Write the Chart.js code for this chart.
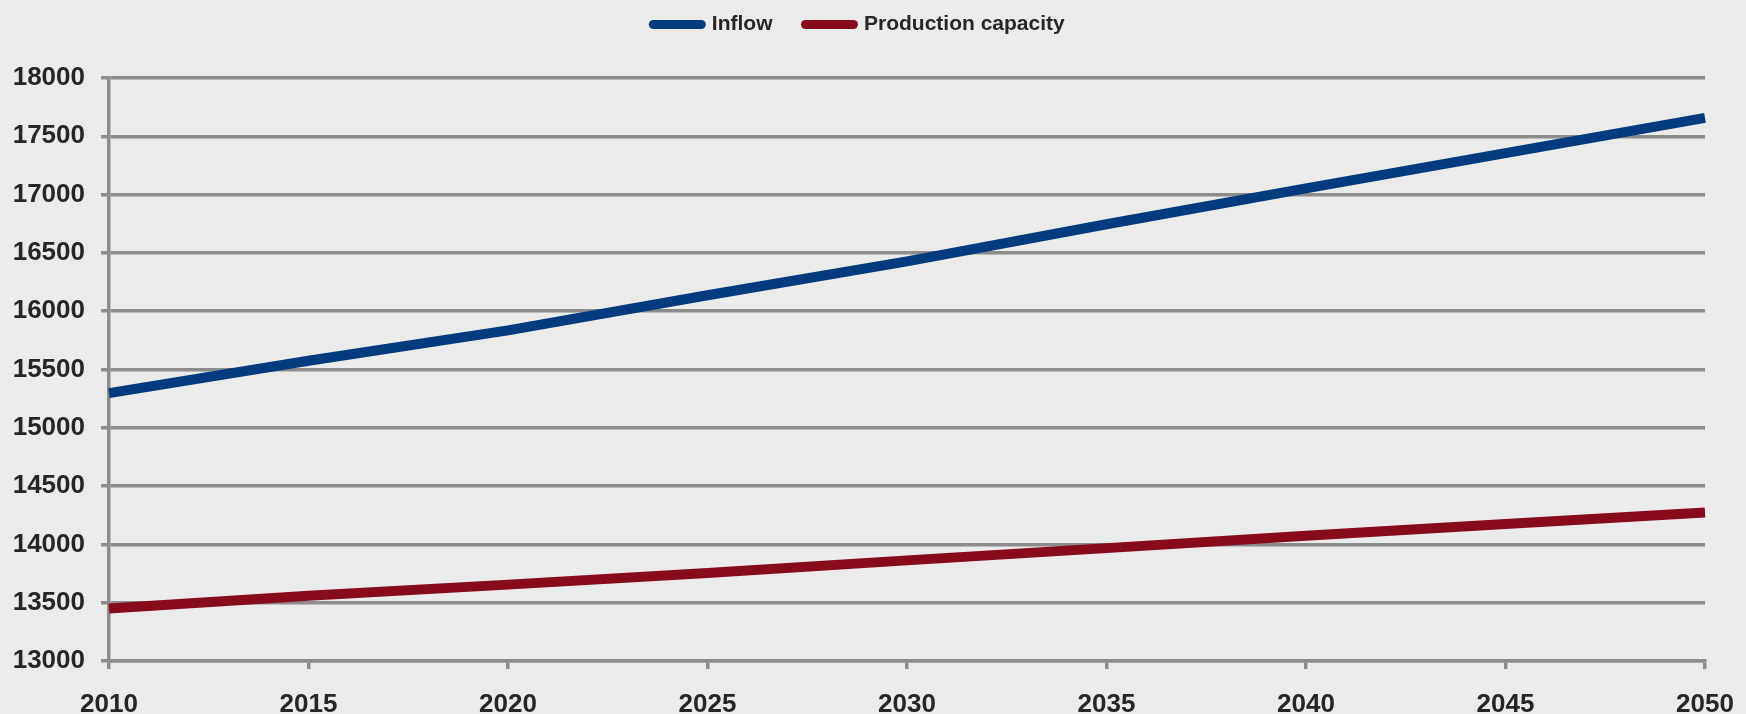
<!DOCTYPE html>
<html>
<head>
<meta charset="utf-8">
<script src="https://cdn.jsdelivr.net/npm/chart.js@4"></script>
<style>
    html, body { margin: 0; padding: 0; background: #ebebeb; }
    #wrap { width: 1746px; height: 714px; position: relative; }
</style>
</head>
<body>
<div id="wrap"><canvas id="flowChart"></canvas></div>
<script>
const years = ['2010', '2015', '2020', '2025', '2030', '2035', '2040', '2045', '2050'];
const inflow = [15297, 15575, 15835, 16137, 16427, 16746, 17054, 17356, 17658];
const productionCapacity = [13450, 13560, 13655, 13755, 13863, 13968, 14074, 14175, 14274];
const yMin = 13000;
const yMax = 18000;
const yStep = 500;

const gridColor = '#8c8c8c';
const textColor = '#262626';
const fontFamily = 'Liberation Sans';

// extra room under the legend before the plot starts
const legendSpacer = {
    id: 'legendSpacer',
    beforeInit(chart) {
        const origFit = chart.legend.fit;
        chart.legend.fit = function () {
            origFit.bind(chart.legend)();
            this.height += 33;
        };
    }
};

const ctx = document.getElementById('flowChart');

new Chart(ctx, {
    type: 'line',
    data: {
        labels: years,
        datasets: [{
            label: 'Inflow',
            data: inflow,
            borderColor: '#003b7d',
            backgroundColor: '#003b7d',
            borderWidth: 10,
            pointRadius: 0,
            tension: 0
        }, {
            label: 'Production capacity',
            data: productionCapacity,
            borderColor: '#880b1c',
            backgroundColor: '#880b1c',
            borderWidth: 10,
            pointRadius: 0,
            tension: 0
        }]
    },
    options: {
        responsive: true,
        maintainAspectRatio: false,
        animation: false,
        layout: {
            padding: { top: -19, left: 13, right: 41, bottom: 0 }
        },
        plugins: {
            legend: {
                position: 'top',
                labels: {
                    font: { family: fontFamily, size: 21, weight: 'bold' },
                    color: textColor,
                    padding: 33,
                    usePointStyle: true,
                    pointStyle: 'line',
                    pointStyleWidth: 48,
                    generateLabels(chart) {
                        const items = Chart.defaults.plugins.legend.labels.generateLabels(chart);
                        items.forEach(item => {
                            item.lineCap = 'round';
                            item.lineWidth = 9;
                            item.pointStyle = 'line';
                        });
                        return items;
                    }
                }
            },
            tooltip: { enabled: false }
        },
        scales: {
            x: {
                offset: false,
                afterFit(scale) {
                    scale.height = 53;
                    // let layout.padding decide the right edge, not the last label
                    scale.paddingRight = 0;
                },
                grid: {
                    drawOnChartArea: false,
                    drawTicks: true,
                    tickLength: 8,
                    color: gridColor,
                    lineWidth: 3.5
                },
                border: { color: gridColor, width: 3.5 },
                ticks: {
                    font: { family: fontFamily, size: 26, weight: 'bold', lineHeight: 1 },
                    color: textColor,
                    padding: 23,
                    maxRotation: 0,
                    autoSkip: false
                }
            },
            y: {
                min: yMin,
                max: yMax,
                afterFit(scale) {
                    scale.width = 96;
                },
                grid: {
                    color: gridColor,
                    lineWidth: 3.5,
                    drawTicks: true,
                    tickLength: 8
                },
                border: { color: gridColor, width: 3.5 },
                ticks: {
                    stepSize: yStep,
                    font: { family: fontFamily, size: 26, weight: 'bold', lineHeight: 1 },
                    color: textColor,
                    padding: 16,
                    callback: value => String(value)
                }
            }
        }
    },
    plugins: [legendSpacer]
});
</script>
</body>
</html>
